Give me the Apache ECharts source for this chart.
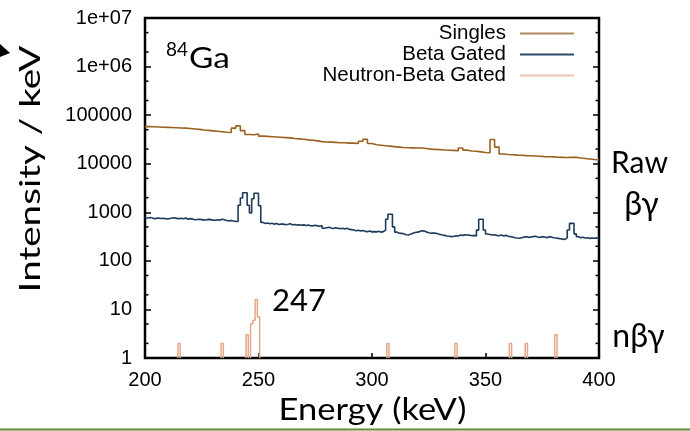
<!DOCTYPE html>
<html>
<head>
<meta charset="utf-8">
<script src="https://cdn.jsdelivr.net/npm/echarts@6/dist/echarts.min.js"></script>
<style>
html,body{margin:0;padding:0;background:#fff;}
#c{width:690px;height:431px;}
</style>
</head>
<body>
<div id="c"></div>
<script>
// ---- data ----
const xMin = 200, xMax = 400, xInterval = 50;
const yTickLabels = ['1', '10', '100', '1000', '10000', '100000', '1e+06', '1e+07'];
const yMinorTicks = [2, 5, 20, 50, 200, 500, 2000, 5000, 20000, 50000, 200000, 500000, 2000000, 5000000];
const seriesNames = ['Singles', 'Beta Gated', 'Neutron-Beta Gated'];

// Singles: 2 keV bins starting at 200 keV
const singlesStart = 200, singlesBin = 2;
const singlesCounts = [
  58000, 57500, 57000, 56500, 56000, 55500, 55000, 54500, 54000, 53000,
  52000, 51000, 49500, 48500, 47500, 46500, 45500, 44500, 44000, 54000,
  60000, 48000, 40000, 39500, 41000, 37000, 36500, 36000, 35500, 35000,
  34500, 34000, 33000, 32500, 32000, 31000, 30500, 29500, 28500, 28000,
  27800, 27500, 27000, 27000, 26500, 26500, 26000, 29000, 32000, 26000,
  24500, 24000, 23500, 23000, 22500, 22000, 21500, 21300, 21200, 21000,
  21000, 20500, 20000, 19700, 19500, 19200, 19000, 18800, 18500, 21000,
  19000, 18300, 18000, 17500, 17000, 16800, 31500, 22000, 15800, 15500,
  15300, 15000, 14900, 14700, 14600, 14400, 14200, 14000, 13900, 13800,
  13600, 13500, 13400, 13500, 13600, 13100, 12800, 12500, 12200, 12000
];

// Beta gated: 1 keV bins starting at 200 keV
const betaStart = 200, betaBin = 1;
const betaCounts = [
  760, 775, 770, 740, 750, 765, 745, 755, 740, 730,
  745, 760, 770, 750, 740, 755, 735, 760, 720, 740,
  725, 700, 710, 720, 705, 690, 700, 715, 705, 690,
  685, 700, 690, 720, 700, 680, 665, 675, 660, 650,
  645, 1400, 1970, 2530, 2530, 1400, 970, 1900, 2460, 2460,
  1360, 620, 590, 600, 580, 595, 570, 585, 560, 575,
  570, 555, 565, 580, 550, 560, 545, 555, 540, 550,
  535, 545, 530, 525, 540, 525, 520, 530, 470, 480,
  490, 475, 465, 480, 470, 460, 468, 455, 470, 445,
  440, 430, 417, 425, 410, 420, 405, 400, 410, 395,
  400, 395, 405, 390, 400, 430, 720, 909, 909, 500,
  390, 370, 368, 360, 345, 340, 355, 370, 385, 391,
  400, 418, 410, 395, 380, 370, 375, 372, 360, 350,
  340, 335, 325, 320, 315, 318, 330, 325, 340, 335,
  345, 340, 338, 330, 335, 325, 430, 717, 717, 432,
  356, 350, 340, 345, 335, 330, 340, 325, 335, 320,
  315, 310, 300, 295, 292, 300, 310, 315, 305, 310,
  315, 320, 310, 305, 315, 310, 300, 315, 310, 300,
  295, 290, 285, 280, 277, 300, 432, 590, 590, 360,
  315, 300, 305, 295, 300, 290, 295, 291, 300, 290
];

// Neutron-beta gated: non-empty 1 keV bins (bin centre energy, counts)
const nbgEnergies = [215, 234, 245, 247, 248, 249, 250, 307, 337, 361, 368, 381];
const nbgCounts   = [2, 2, 3, 5, 6, 16, 7, 2, 2, 2, 2, 3];
const nbgBin = 1;
const axisFloor = 1;

// ---- build step data ----
function stepData(start, width, counts) {
  const d = counts.map((v, i) => [start + i * width, v]);
  d.push([start + counts.length * width, counts[counts.length - 1]]);
  return d;
}
function sparseHist(energies, counts, width) {
  const d = [];
  let prevHi = null;
  energies.forEach((e, i) => {
    const lo = e - width / 2, hi = e + width / 2;
    if (prevHi === null || Math.abs(prevHi - lo) > 1e-9) {
      if (prevHi !== null) { d.push([prevHi, axisFloor]); d.push([null, null]); }
      d.push([lo, axisFloor]);
    }
    d.push([lo, counts[i]]);
    d.push([hi, counts[i]]);
    prevHi = hi;
  });
  d.push([prevHi, axisFloor]);
  return d;
}

const chart = echarts.init(document.getElementById('c'), null, {renderer: 'canvas'});
const tickFont = '"Liberation Sans", Arial, Helvetica, sans-serif';
const titleFont = 'Lato, "Open Sans", "Noto Sans", sans-serif';

const option = {
  animation: false,
  backgroundColor: '#fff',
  grid: {left: 145, right: 91, top: 18, bottom: 73, show: true, borderColor: '#000', borderWidth: 2.5, backgroundColor: 'transparent'},
  legend: {
    data: [
      {name: seriesNames[0], itemStyle: {color: '#b08a5e'}},
      {name: seriesNames[1], itemStyle: {color: '#2d4d6b'}},
      {name: seriesNames[2], itemStyle: {color: '#ebc4b2'}}
    ],
    orient: 'vertical', right: 116, top: 23, align: 'right', padding: 0,
    icon: 'rect', itemWidth: 54, itemHeight: 2, itemGap: 0,
    textStyle: {fontFamily: tickFont, fontSize: 20.5, color: '#000', lineHeight: 20.5, padding: [0, 9, 0, 0]},
    selectedMode: false
  },
  xAxis: {
    type: 'value', min: xMin, max: xMax, interval: xInterval,
    axisLine: {show: false},
    axisTick: {show: true, inside: true, length: 5, lineStyle: {color: '#000', width: 1.5}},
    axisLabel: {fontFamily: tickFont, fontSize: 20, color: '#000', margin: 12},
    splitLine: {show: false}
  },
  yAxis: [
    {
      type: 'log', logBase: 10, min: 1, max: 1e7,
      axisLine: {show: false},
      axisTick: {show: true, inside: true, length: 6, lineStyle: {color: '#000', width: 1.5}},
      axisLabel: {fontFamily: tickFont, fontSize: 20, color: '#000', margin: 13,
        formatter: v => yTickLabels[Math.round(Math.log10(v))]},
      splitLine: {show: false}, minorTick: {show: false}
    },
    {
      type: 'log', logBase: 10, min: 1, max: 1e7, position: 'right',
      axisLine: {show: false},
      axisTick: {show: true, inside: true, length: 6, lineStyle: {color: '#000', width: 1.5}},
      axisLabel: {show: false}, splitLine: {show: false}
    }
  ],
  series: [
    {
      name: seriesNames[0], type: 'line', step: 'end', showSymbol: false, symbol: 'none',
      data: stepData(singlesStart, singlesBin, singlesCounts),
      lineStyle: {color: '#9a611f', width: 1.6}, itemStyle: {color: '#9a611f'}, z: 3
    },
    {
      name: seriesNames[1], type: 'line', step: 'end', showSymbol: false, symbol: 'none',
      data: stepData(betaStart, betaBin, betaCounts),
      lineStyle: {color: '#1f3b5b', width: 1.6}, itemStyle: {color: '#1f3b5b'}, z: 3
    },
    {
      name: seriesNames[2], type: 'line', showSymbol: false, symbol: 'none', connectNulls: false,
      data: sparseHist(nbgEnergies, nbgCounts, nbgBin),
      lineStyle: {color: '#e3a888', width: 1.5}, itemStyle: {color: '#e3a888'}, z: 3
    },
    {
      name: 'minorTicks', type: 'custom', silent: true, clip: false, z: 5,
      data: yMinorTicks.map(v => [v]),
      renderItem: (params, api) => {
        const v = api.value(0);
        const pl = api.coord([xMin, v]);
        const pr = api.coord([xMax, v]);
        return {type: 'group', children: [
          {type: 'line', shape: {x1: pl[0], y1: pl[1], x2: pl[0] + 3.5, y2: pl[1]}, style: {stroke: '#000', lineWidth: 1.5}},
          {type: 'line', shape: {x1: pr[0], y1: pr[1], x2: pr[0] - 3.5, y2: pr[1]}, style: {stroke: '#000', lineWidth: 1.5}}
        ]};
      }
    }
  ],
  graphic: [
    {type: 'polygon', shape: {points: [[0, 44], [10, 53], [0, 57]]}, style: {fill: '#000'}},
    {type: 'rect', shape: {x: 0, y: 428.5, width: 690, height: 2}, style: {fill: '#5e8c31'}},
    {type: 'text', x: 31, y: 169, rotation: Math.PI / 2, scaleX: 1.38,
      style: {text: 'Intensity / keV', fontSize: 28, fontFamily: titleFont, fill: '#000', align: 'center', verticalAlign: 'middle', textAlign: 'center', textVerticalAlign: 'middle'}},
    {type: 'text', x: 372.5, y: 410, scaleX: 1.15,
      style: {text: 'Energy (keV)', fontSize: 30, fontFamily: titleFont, fill: '#000', align: 'center', verticalAlign: 'middle', textAlign: 'center', textVerticalAlign: 'middle'}},
    {type: 'text', x: 166, y: 50,
      style: {text: '84', fontSize: 19, fontFamily: titleFont, fill: '#000', align: 'left', verticalAlign: 'middle', textAlign: 'left', textVerticalAlign: 'middle'}},
    {type: 'text', x: 189, y: 59, scaleX: 1.15,
      style: {text: 'Ga', fontSize: 29, fontFamily: titleFont, fill: '#000', align: 'left', verticalAlign: 'middle', textAlign: 'left', textVerticalAlign: 'middle'}},
    {type: 'text', x: 299, y: 301,
      style: {text: '247', fontSize: 31, fontFamily: titleFont, fill: '#000', align: 'center', verticalAlign: 'middle', textAlign: 'center', textVerticalAlign: 'middle'}},
    {type: 'text', x: 639.5, y: 163,
      style: {text: 'Raw', fontSize: 30, fontFamily: titleFont, fill: '#000', align: 'center', verticalAlign: 'middle', textAlign: 'center', textVerticalAlign: 'middle'}},
    {type: 'text', x: 641.5, y: 205,
      style: {text: 'βγ', fontSize: 32, fontFamily: titleFont, fill: '#000', align: 'center', verticalAlign: 'middle', textAlign: 'center', textVerticalAlign: 'middle'}},
    {type: 'text', x: 638.5, y: 337,
      style: {text: 'nβγ', fontSize: 32, fontFamily: titleFont, fill: '#000', align: 'center', verticalAlign: 'middle', textAlign: 'center', textVerticalAlign: 'middle'}}
  ]
};
chart.setOption(option);
</script>
</body>
</html>
